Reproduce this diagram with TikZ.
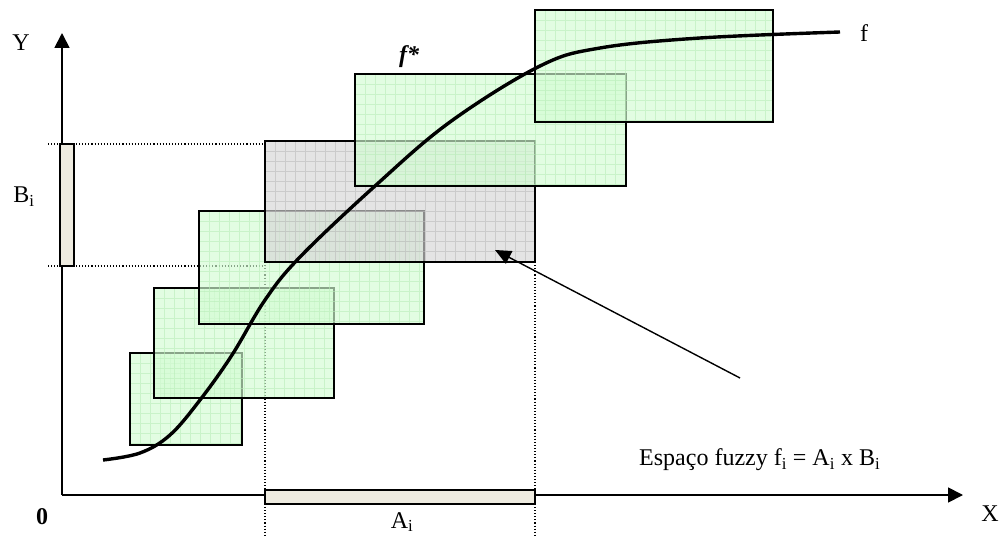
\documentclass[tikz,border=0pt]{standalone}
\usepackage{fontspec}
\setmainfont{Liberation Serif}
\usetikzlibrary{arrows.meta}
\definecolor{fz}{HTML}{D3FCD3}
\definecolor{fzg}{HTML}{B8EDB8}
\definecolor{gy}{HTML}{D6D6D6}
\definecolor{gyg}{HTML}{BBBBBB}
\definecolor{barc}{HTML}{EEEBE0}
\tikzset{
  lbl/.style={font=\fontsize{24}{28}\selectfont, inner sep=0pt},
  axis/.style={line width=1.8pt, -{Triangle[length=15pt,width=15pt]}},
  guide/.style={dotted, line width=1.1pt},
  bar/.style={draw, line width=1.4pt, fill=barc},
  curve/.style={line width=3.4pt},
  pointer/.style={line width=1.4pt, -{Triangle[length=16pt,width=14pt]}},
}
\newcommand{\fuzzyrect}[6]{%
  \begin{scope}
    \fill[#5, opacity=0.65] (#1,#2) rectangle (#3,#4);
    \clip (#1,#2) rectangle (#3,#4);
    \draw[#6, line width=0.7pt, opacity=0.6, xstep=10pt, ystep=10pt, shift={(#1,#2)}] (0,0) grid (#3-#1,#4-#2);
  \end{scope}
  \draw[line width=1.8pt] (#1,#2) rectangle (#3,#4);}
\begin{document}
\begin{tikzpicture}[x=1pt,y=-1pt]
\useasboundingbox (0,0) rectangle (1003,537);
% axes
\coordinate (O) at (62,495);
\coordinate (Yt) at (62,33);
\coordinate (Xt) at (963,495);
\draw[axis] (O) -- (Yt);
\draw[axis] (O) -- (Xt);
\node[lbl] (Y) at (21,43) {Y};
\node[lbl] (X) at (990,514) {X};
\node[lbl, font=\fontsize{24}{28}\selectfont\bfseries] (zero) at (42,517) {0};
% guides
\coordinate (b1) at (48,144);
\coordinate (b1r) at (265,144);
\coordinate (b2) at (48,266);
\coordinate (b2r) at (265,266);
\draw[guide] (b1) -- (b1r);
\draw[guide] (b2) -- (b2r);
\coordinate (a1t) at (265,262);
\coordinate (a1b) at (265,535);
\coordinate (a2t) at (535,262);
\coordinate (a2b) at (535,535);
\draw[guide] (a1t) -- (a1b);
\draw[guide] (a2t) -- (a2b);
% bars
\node[bar, minimum width=14pt, minimum height=122pt, inner sep=0pt] (Bbar) at (67,205) {};
\node[bar, minimum width=270pt, minimum height=14pt, inner sep=0pt] (Abar) at (400,497) {};
\node[lbl] (Bl) at (24,197) {B\textsubscript{i}};
\node[lbl] (Al) at (402,522) {A\textsubscript{i}};
% fuzzy rectangles
\fuzzyrect{130}{353}{242}{445}{fz}{fzg}
\fuzzyrect{154}{288}{334}{398}{fz}{fzg}
\fuzzyrect{199}{211}{424}{324}{fz}{fzg}
\fuzzyrect{265}{141}{535}{262}{gy}{gyg}
\fuzzyrect{355}{74}{626}{186}{fz}{fzg}
\fuzzyrect{535}{10}{773}{122}{fz}{fzg}
% curve
\draw[curve] plot[smooth, tension=0.6] coordinates {(103,460) (140,453) (170,435) (200,400) (232,355) (265,300) (300,257) (375,186) (450,122) (540,66) (600,48) (700,38) (840,32)};
\node[lbl] (f) at (864,33) {f};
\node[lbl, font=\fontsize{24}{28}\selectfont\bfseries\itshape] (fs) at (409,57) {f*};
% annotation
\node[lbl, anchor=west] (esp) at (639,460) {Espaço fuzzy f\textsubscript{i} = A\textsubscript{i} x B\textsubscript{i}};
\coordinate (tail) at (740,378);
\coordinate (tip) at (495,250);
\draw[pointer] (tail) -- (tip);
\end{tikzpicture}
\end{document}
